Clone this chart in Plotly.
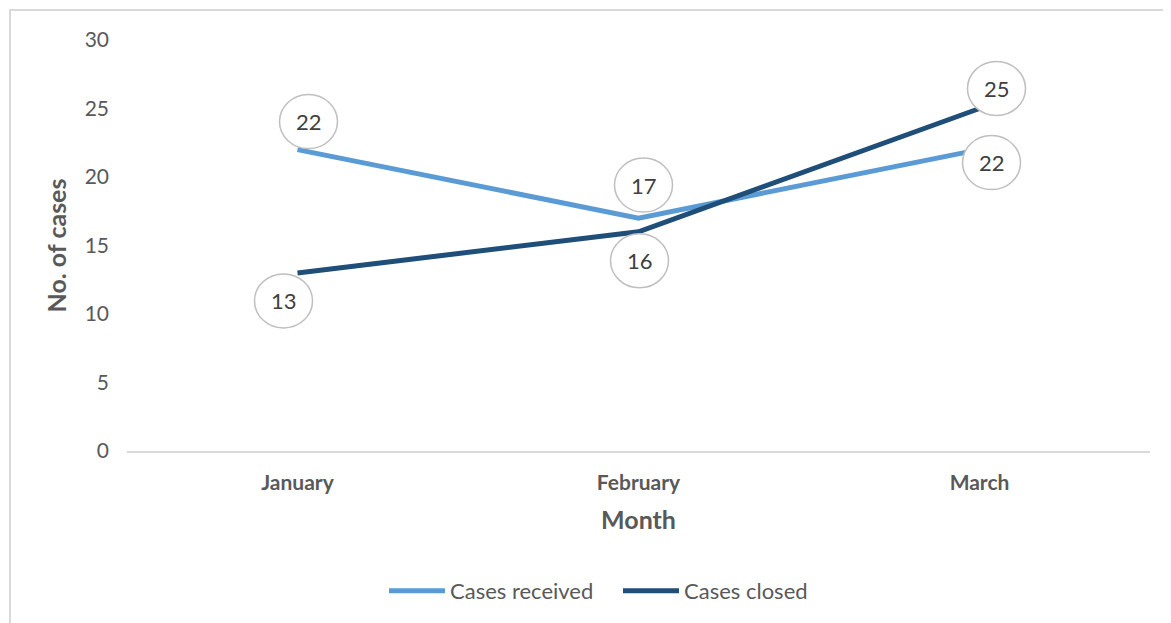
import plotly.graph_objects as go

months = ["January", "February", "March"]
cases_received = [22, 17, 22]
cases_closed = [13, 16, 25]
y_ticks = [0, 5, 10, 15, 20, 25, 30]

# pixel offsets of each label bubble from its point
received_offsets = [(11, 28), (5, 33), (12, -13)]
closed_offsets = [(-14, -28), (1, -29), (17, 20)]

FONT = "Lato, Noto Sans, sans-serif"
TXT = "#595959"

fig = go.Figure()
fig.add_trace(go.Scatter(x=months, y=cases_received, mode="lines", name="Cases received",
                         line=dict(color="#5B9BD5", width=5)))
fig.add_trace(go.Scatter(x=months, y=cases_closed, mode="lines", name="Cases closed",
                         line=dict(color="#1F4E79", width=5)))

# bubbles + labels
for values, offsets in [(cases_received, received_offsets), (cases_closed, closed_offsets)]:
    for i, (v, (dx, dy)) in enumerate(zip(values, offsets)):
        fig.add_shape(type="circle", xref="x", yref="y", xsizemode="pixel", ysizemode="pixel",
                      xanchor=i, yanchor=v, x0=dx - 29, x1=dx + 29, y0=dy - 27, y1=dy + 27,
                      line=dict(color="#bfbfbf", width=1.5), fillcolor="white", layer="above")
        fig.add_annotation(x=i, y=v, xref="x", yref="y", text=str(v), showarrow=False,
                           xshift=dx, yshift=dy, font=dict(size=22, color="#404040", family=FONT))

# chart border (Excel-style)
fig.add_shape(type="rect", xref="paper", yref="paper",
              x0=(2 - 119) / 1023, x1=(1190 - 119) / 1023,
              y0=(443 - 660) / 411, y1=(443 - 2) / 411,
              line=dict(color="#d9d9d9", width=2), layer="below")

fig.update_layout(
    width=1171, height=623,
    margin=dict(l=119, r=29, t=32, b=180),
    plot_bgcolor="white", paper_bgcolor="white",
    font=dict(family=FONT, color=TXT, size=22),
    showlegend=True,
    legend=dict(orientation="h", x=(384 - 127) / 1023, xanchor="left",
                y=(443 - 583) / 411, yanchor="middle", itemwidth=56,
                entrywidth=163, entrywidthmode="pixels",
                font=dict(size=22, color=TXT), tracegroupgap=0),
)
fig.update_xaxes(
    range=[-0.5, 2.5], showgrid=False, showline=True, linecolor="#d9d9d9", linewidth=2,
    ticks="", tickfont=dict(size=21, color=TXT, family=FONT, weight="bold"),
    ticklabelstandoff=12,
    title=dict(text="<b>Month</b>", font=dict(size=25, color=TXT), standoff=18),
)
fig.update_yaxes(
    range=[0, 30], tickvals=y_ticks, showgrid=False, zeroline=False, showline=False,
    ticks="", ticklabelstandoff=17, tickfont=dict(size=21, color=TXT),
    title=dict(text="<b>No. of cases</b>", font=dict(size=25, color=TXT), standoff=10),
)

fig.write_html("out.html")
